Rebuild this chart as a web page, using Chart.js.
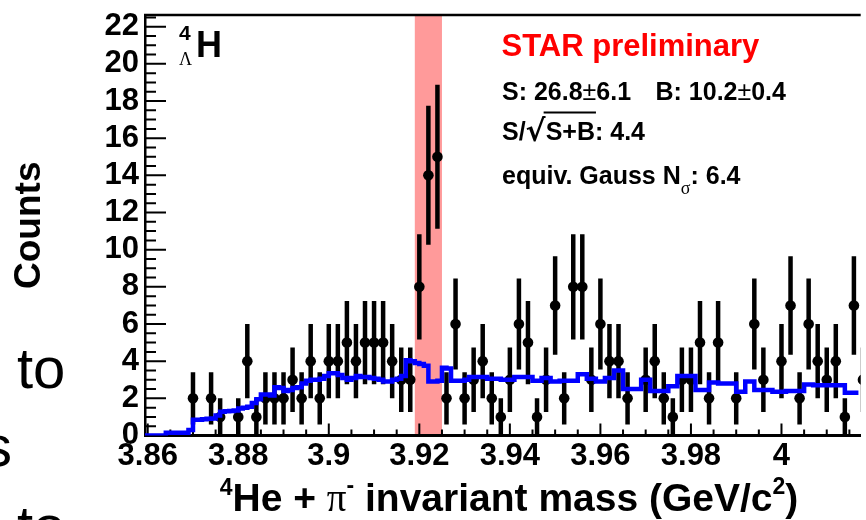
<!DOCTYPE html>
<html>
<head>
<meta charset="utf-8">
<script src="https://cdn.jsdelivr.net/npm/chart.js@4.4.1/dist/chart.umd.min.js"></script>
<style>
html,body{margin:0;padding:0;background:#fff;}
#wrap{position:relative;width:866px;height:520px;overflow:hidden;background:#fff;}
#c{position:absolute;left:0;top:0;}
</style>
</head>
<body>
<div id="wrap"><canvas id="c" width="866" height="520"></canvas></div>
<script>
// ---------------- data ----------------
// data histogram: 2 MeV bins starting at 3.859 GeV
const dataBinLow = 3.859;
const dataBinWidth = 0.002;
const counts = [
  0,0,0,0,0,2,0,2,1,0,
  1,4,1,2,2,2,3,2,4,2,
  4,4,5,4,5,5,5,4,3,3,
  8,14,15,2,6,2,3,4,2,1,
  3,6,5,1,3,7,2,8,8,3,
  6,4,4,2,0,3,4,2,1,3,
  3,5,2,5,0,2,0,6,3,0,
  4,7,2,6,4,3,4,1,7,3
];
const countErr = [
  0,0,0,0,0,1.41,0,1.41,1,0,
  1,2,1,1.41,1.41,1.41,1.73,1.41,2,1.41,
  2,2,2.24,2,2.24,2.24,2.24,2,1.73,1.73,
  2.83,3.74,3.87,1.41,2.45,1.41,1.73,2,1.41,1,
  1.73,2.45,2.24,1,1.73,2.65,1.41,2.83,2.83,1.73,
  2.45,2,2,1.41,0,1.73,2,1.41,1,1.73,
  1.73,2.24,1.41,2.24,0,1.41,0,2.45,1.73,0,
  2,2.65,1.41,2.45,2,1.73,2,1,2.65,1.73
];
// background histogram (blue): 1 MeV bins starting at 3.859 GeV
const bkgBinLow = 3.859;
const bkgBinWidth = 0.001;
const background = [
  0,0,0,0,0,0.15,0.15,0.15,0.15,0.15,
  0.3,0.85,0.85,0.87,0.9,0.92,1.08,1.28,1.3,1.32,
  1.35,1.45,1.5,1.55,1.75,1.95,2.2,2.2,2.15,2.6,
  2.55,2.4,2.45,2.55,2.6,2.8,2.95,3.0,3.0,3.05,
  3.2,3.35,3.35,3.25,3.1,3.0,3.1,3.2,3.15,3.15,
  3.1,3.05,3.0,2.9,2.9,3.0,3.05,3.2,4.05,4.0,
  3.9,3.85,3.75,2.9,2.9,2.95,3.65,3.6,2.95,2.95,
  2.95,3.0,3.15,3.15,3.15,3.15,3.05,3.05,3.05,3.0,
  3.0,3.0,3.15,3.15,3.15,3.15,2.95,2.95,3.1,3.1,
  2.9,2.9,2.95,2.95,2.95,2.95,3.3,3.3,3.05,3.05,
  2.9,2.9,3.1,3.1,3.5,3.5,2.5,2.5,2.5,2.5,
  3.0,3.0,2.4,2.4,2.4,2.4,2.65,2.65,3.2,3.2,
  3.2,3.2,2.45,2.45,2.45,2.85,2.85,2.8,2.8,2.8,
  2.8,2.35,2.35,2.9,2.9,2.45,2.45,2.45,2.45,2.35,
  2.35,2.35,2.4,2.4,2.4,2.4,2.75,2.75,2.7,2.7,
  2.7,2.7,2.7,2.7,2.7,2.3,2.3,2.3
];
const signalWindow = [3.919, 3.925];
const xRange = [3.8594, 4.0175];
const yRange = [0, 22.63];
const xTickValues = [3.86, 3.88, 3.90, 3.92, 3.94, 3.96, 3.98, 4.00];
const xTickLabels = ['3.86','3.88','3.9','3.92','3.94','3.96','3.98','4'];
const yTickValues = [0,2,4,6,8,10,12,14,16,18,20,22];
const yTickLabels = ['0','2','4','6','8','10','12','14','16','18','20','22'];
const xMinorStep = 0.005, xMajorStep = 0.02;
const yMinorStep = 0.5, yMajorStep = 2;

// ---------------- build datasets ----------------
const pointData = [];
counts.forEach((c, k) => {
  if (c > 0) pointData.push({x: dataBinLow + (k + 0.5) * dataBinWidth, y: c, e: countErr[k]});
});
const bkgData = background.map((v, j) => ({x: bkgBinLow + j * bkgBinWidth, y: v}));
bkgData.push({x: bkgBinLow + background.length * bkgBinWidth, y: background[background.length - 1]});

const SANS = '"Liberation Sans", Arial, Helvetica, sans-serif';
const SERIF = '"Liberation Serif", "Times New Roman", serif';
const DEJA = '"DejaVu Sans", sans-serif';

// ---------------- plugins ----------------
const bandPlugin = {
  id: 'band',
  beforeDraw(chart) {
    const {ctx, chartArea: a, scales: {x}} = chart;
    const x0 = x.getPixelForValue(signalWindow[0]);
    const x1 = x.getPixelForValue(signalWindow[1]);
    ctx.save();
    ctx.fillStyle = '#ff9a9a';
    ctx.fillRect(x0, a.top, x1 - x0, a.bottom - a.top);
    ctx.restore();
  }
};

const decorPlugin = {
  id: 'decor',
  beforeDatasetsDraw(chart) {
    const {ctx, chartArea: a, scales: {x, y}} = chart;
    ctx.save();
    ctx.strokeStyle = '#000';
    ctx.lineWidth = 2;
    ctx.beginPath();
    const nY = Math.round((yRange[1] - yRange[0]) / yMinorStep);
    for (let i = 0; i <= nY; i++) {
      const v = yRange[0] + i * yMinorStep;
      if (v > yRange[1]) break;
      const py = y.getPixelForValue(v);
      const major = (i * yMinorStep) % yMajorStep === 0;
      ctx.moveTo(a.left, py);
      ctx.lineTo(a.left + (major ? 21 : 11), py);
    }
    const nX = Math.round((xRange[1] - xTickValues[0]) / xMinorStep);
    for (let i = 0; i <= nX; i++) {
      const v = xTickValues[0] + i * xMinorStep;
      const px = x.getPixelForValue(v);
      if (px > a.right) break;
      const major = i % Math.round(xMajorStep / xMinorStep) === 0;
      ctx.moveTo(px, a.bottom);
      ctx.lineTo(px, a.bottom - (major ? 12 : 6));
    }
    ctx.stroke();
    // top frame line
    ctx.lineWidth = 2.5;
    ctx.beginPath();
    ctx.moveTo(a.left - 1, a.top);
    ctx.lineTo(a.right, a.top);
    ctx.stroke();
    // error bars
    ctx.beginPath();
    ctx.rect(a.left, a.top, a.right - a.left, a.bottom - a.top);
    ctx.clip();
    ctx.lineWidth = 4.5;
    ctx.lineCap = 'butt';
    ctx.beginPath();
    pointData.forEach(p => {
      const px = x.getPixelForValue(p.x);
      ctx.moveTo(px, y.getPixelForValue(p.y - p.e));
      ctx.lineTo(px, y.getPixelForValue(p.y + p.e));
    });
    ctx.stroke();
    ctx.restore();
  }
};

function drawRuns(ctx, x, y, runs, align) {
  let total = 0;
  runs.forEach(r => { ctx.font = r.font; r.w = ctx.measureText(r.text).width; total += r.w + (r.gap || 0); });
  let cx = align === 'center' ? x - total / 2 : x;
  const pos = [];
  runs.forEach(r => {
    ctx.font = r.font;
    ctx.fillStyle = r.color || '#000';
    ctx.fillText(r.text, cx, y + (r.dy || 0));
    pos.push([cx, cx + r.w]);
    cx += r.w + (r.gap || 0);
  });
  return pos;
}

const textPlugin = {
  id: 'texts',
  afterDraw(chart) {
    const ctx = chart.ctx;
    ctx.save();
    ctx.textBaseline = 'alphabetic';
    ctx.textAlign = 'left';
    // hypertriton label
    ctx.fillStyle = '#000';
    ctx.font = 'bold 21px ' + SANS; ctx.fillText('4', 179, 40);
    ctx.font = '18px ' + SERIF; ctx.fillText('Λ', 179, 65);
    ctx.font = 'bold 36px ' + SANS; ctx.fillText('H', 196, 57);
    // STAR preliminary
    ctx.fillStyle = '#ff0000';
    ctx.font = 'bold 31px ' + SANS; ctx.fillText('STAR preliminary', 501.5, 55.5);
    // S and B
    const B25 = 'bold 25px ' + SANS, N25 = '25px ' + SANS;
    drawRuns(ctx, 502, 100, [{text: 'S: 26.8', font: B25}, {text: '±', font: N25}, {text: '6.1', font: B25}]);
    drawRuns(ctx, 655.5, 100, [{text: 'B: 10.2', font: B25}, {text: '±', font: N25}, {text: '0.4', font: B25}]);
    // significance
    const pos = drawRuns(ctx, 502, 140, [
      {text: 'S/', font: B25},
      {text: '√', font: 'bold 30px ' + DEJA, dy: 1},
      {text: 'S+B', font: B25},
      {text: ': 4.4', font: B25}
    ]);
    ctx.strokeStyle = '#000';
    ctx.lineWidth = 2.2;
    ctx.beginPath();
    ctx.moveTo(pos[1][1] - 2, 112.5);
    ctx.lineTo(pos[2][1] + 1, 112.5);
    ctx.stroke();
    // Gauss equivalent
    drawRuns(ctx, 502, 184, [
      {text: 'equiv. Gauss N', font: B25},
      {text: 'σ', font: '18px ' + SERIF, dy: 10},
      {text: ': 6.4', font: B25}
    ]);
    // x axis title
    drawRuns(ctx, 509, 511, [
      {text: '4', font: 'bold 23px ' + SANS, dy: -16},
      {text: 'He + ', font: 'bold 39px ' + SANS},
      {text: 'π', font: '39px ' + SERIF},
      {text: '-', font: 'bold 23px ' + SANS, dy: -18},
      {text: ' invariant mass (GeV/c', font: 'bold 39px ' + SANS},
      {text: '2', font: 'bold 23px ' + SANS, dy: -17},
      {text: ')', font: 'bold 39px ' + SANS}
    ], 'center');
    // slide text fragments at the left edge
    ctx.fillStyle = '#000';
    ctx.font = '58px ' + SANS;
    ctx.fillText('to', 17, 388);
    ctx.fillText('s', -17, 466);
    ctx.fillText('to', 17, 546);
    ctx.restore();
  }
};

// ---------------- chart ----------------
new Chart(document.getElementById('c'), {
  type: 'scatter',
  data: {
    datasets: [
      {
        type: 'line',
        label: 'background',
        data: bkgData,
        showLine: true,
        stepped: 'before',
        borderColor: '#0000ff',
        borderWidth: 4.5,
        borderJoinStyle: 'miter',
        borderCapStyle: 'butt',
        pointRadius: 0,
        fill: false,
        order: 0
      },
      {
        label: 'data',
        data: pointData,
        pointRadius: 5.3,
        pointBackgroundColor: '#000',
        pointBorderColor: '#000',
        pointBorderWidth: 0,
        order: 1
      }
    ]
  },
  options: {
    responsive: false,
    animation: false,
    devicePixelRatio: 1,
    layout: {padding: {top: 15, right: 0, bottom: 0, left: 0}},
    plugins: {legend: {display: false}, tooltip: {enabled: false}},
    scales: {
      x: {
        type: 'linear',
        min: xRange[0], max: xRange[1],
        grid: {display: false, drawTicks: false},
        border: {display: true, color: '#000', width: 3},
        ticks: {
          color: '#000', padding: 2, maxRotation: 0, minRotation: 0, autoSkip: false,
          font: {family: SANS, size: 31, weight: 'bold'},
          callback: (v, i) => xTickLabels[i]
        },
        afterBuildTicks: s => { s.ticks = xTickValues.map(v => ({value: v})); },
        afterFit: s => { s.height = 84.5; s.paddingLeft = 0; s.paddingRight = 0; }
      },
      y: {
        type: 'linear',
        min: yRange[0], max: yRange[1],
        grid: {display: false, drawTicks: false},
        border: {display: true, color: '#000', width: 2.5},
        ticks: {
          color: '#000', padding: 6, autoSkip: false,
          font: {family: SANS, size: 31, weight: 'bold'},
          callback: (v, i) => yTickLabels[i]
        },
        title: {
          display: true, text: 'Counts', color: '#000',
          font: {family: SANS, size: 37, weight: 'bold'},
          padding: {top: 8, bottom: 0}
        },
        afterBuildTicks: s => { s.ticks = yTickValues.map(v => ({value: v})); },
        afterFit: s => { s.width = 145; s.paddingTop = 0; s.paddingBottom = 0; }
      }
    }
  },
  plugins: [bandPlugin, decorPlugin, textPlugin]
});
</script>
</body>
</html>
